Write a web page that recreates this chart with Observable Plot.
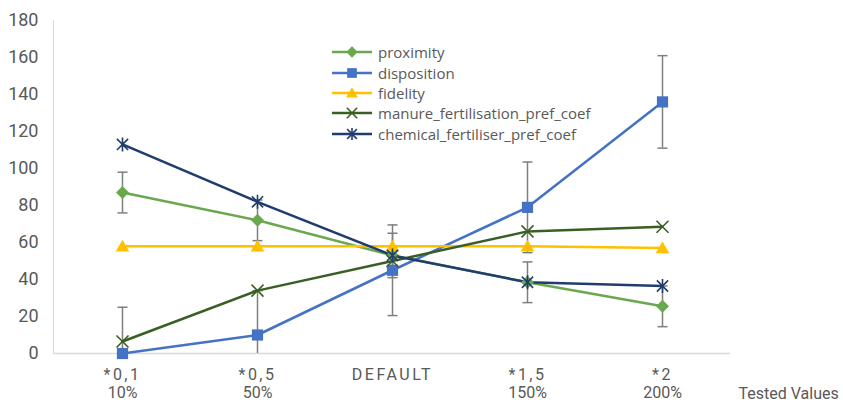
<!DOCTYPE html>
<html>
<head>
<meta charset="utf-8">
<script src="https://cdn.jsdelivr.net/npm/d3@7"></script>
<script src="https://cdn.jsdelivr.net/npm/@observablehq/plot@0.6"></script>
<style>
  body { margin: 0; background: #fff; }
  #wrap { position: relative; width: 843px; height: 405px; overflow: hidden; }
  #legend { position: absolute; left: 330px; top: 42px; font-family: "Open Sans", "Noto Sans", sans-serif; font-size: 15px; color: #595959; }
  #legend .row { height: 20.4px; display: flex; align-items: center; white-space: nowrap; }
  #legend svg { margin-right: 4px; }
</style>
</head>
<body>
<div id="wrap"><div id="legend"></div></div>
<script>
const categories = ["*0,1", "*0,5", "DEFAULT", "*1,5", "*2"];
const percentLabels = ["10%", "50%", "", "150%", "200%"];
const yTicks = [0, 20, 40, 60, 80, 100, 120, 140, 160, 180];

const seriesNames = ["proximity", "disposition", "fidelity", "manure_fertilisation_pref_coef", "chemical_fertiliser_pref_coef"];
const seriesColors = ["#6aa84f", "#4472c4", "#ffc000", "#3a5f24", "#203d6e"];

const proximity   = [87, 72, 53, 38.5, 25.5];
const disposition = [0, 10, 45, 79, 136];
const fidelity    = [58, 58, 58, 58, 57];
const manure      = [6.5, 34, 50, 66, 68.5];
const chemical    = [113, 82, 53, 38.5, 36.5];

const proximityErr   = [11, 11, 12, 11, 11];
const dispositionErr = [25, 24, 24.5, 24.5, 25];

const values = [proximity, disposition, fidelity, manure, chemical];

const rows = [];
seriesNames.forEach((s, si) => categories.forEach((c, ci) => rows.push({series: s, cat: c, value: values[si][ci]})));

const errRows = [];
[[proximity, proximityErr], [disposition, dispositionErr]].forEach(([v, e]) =>
  categories.forEach((c, ci) => errRows.push({cat: c, lo: v[ci] - e[ci], hi: v[ci] + e[ci]})));

// custom symbols
const capSymbol = { draw(ctx, size) { const r = Math.sqrt(size / Math.PI); ctx.moveTo(-r, 0); ctx.lineTo(r, 0); } };
const starSymbol = { draw(ctx, size) { const r = Math.sqrt(size / Math.PI); const k = r * 0.8;
  ctx.moveTo(0, -r); ctx.lineTo(0, r);
  ctx.moveTo(-k, -k); ctx.lineTo(k, k);
  ctx.moveTo(-k, k); ctx.lineTo(k, -k); } };
const xSymbol = { draw(ctx, size) { const r = Math.sqrt(size / Math.PI) * 0.8;
  ctx.moveTo(-r, -r); ctx.lineTo(r, r); ctx.moveTo(-r, r); ctx.lineTo(r, -r); } };
const diamondSymbol = { draw(ctx, size) { const r = Math.sqrt(size / Math.PI);
  ctx.moveTo(0, -r); ctx.lineTo(r, 0); ctx.lineTo(0, r); ctx.lineTo(-r, 0); ctx.closePath(); } };
const squareSymbol = { draw(ctx, size) { const r = Math.sqrt(size / Math.PI);
  ctx.rect(-r, -r, 2 * r, 2 * r); } };
const triangleSymbol = { draw(ctx, size) { const r = Math.sqrt(size / Math.PI);
  ctx.moveTo(0, -r); ctx.lineTo(r * 1.05, r * 0.8); ctx.lineTo(-r * 1.05, r * 0.8); ctx.closePath(); } };

const markerSpecs = [
  {symbol: diamondSymbol, r: 6.5, fill: true},
  {symbol: squareSymbol, r: 5.6, fill: true},
  {symbol: triangleSymbol, r: 6.5, fill: true},
  {symbol: xSymbol, r: 7.5, fill: false},
  {symbol: starSymbol, r: 7, fill: false}
];

const font = 'Roboto, "Liberation Sans", sans-serif';

const marks = [
  Plot.ruleY([0], {stroke: "#d9d9d9", strokeWidth: 1.5}),
  Plot.frame({anchor: "left", stroke: "#d9d9d9", strokeWidth: 1}),
  Plot.axisY({ticks: yTicks, tickSize: 0, tickPadding: 15, fontSize: 18, label: null, fill: "#595959"}),
  Plot.text(categories, {x: d => d, frameAnchor: "bottom", dy: 26, text: d => d, fontSize: 16, fill: "#595959"}),
  Plot.text(categories, {x: d => d, frameAnchor: "bottom", dy: 44, text: d => percentLabels[categories.indexOf(d)], fontSize: 16, fill: "#595959"}),
  Plot.text(["Tested Values"], {frameAnchor: "bottom-right", dx: 8, dy: 45, textAnchor: "start", fontSize: 16, fill: "#595959"}),
  Plot.ruleX(errRows, {x: "cat", y1: "lo", y2: "hi", stroke: "#7f7f7f", strokeWidth: 1.5, clip: true}),
  Plot.dot(errRows, {x: "cat", y: "hi", symbol: capSymbol, r: 5, stroke: "#7f7f7f", strokeWidth: 1.5, clip: true}),
  Plot.dot(errRows, {x: "cat", y: "lo", symbol: capSymbol, r: 5, stroke: "#7f7f7f", strokeWidth: 1.5, clip: true}),
  Plot.line(rows, {x: "cat", y: "value", z: "series", stroke: "series", strokeWidth: 2.5})
];
seriesNames.forEach((s, si) => {
  const m = markerSpecs[si];
  marks.push(Plot.dot(rows.filter(r => r.series === s), {
    x: "cat", y: "value", symbol: m.symbol, r: m.r,
    fill: m.fill ? seriesColors[si] : "none",
    stroke: seriesColors[si], strokeWidth: m.fill ? 0 : 1.6
  }));
});

const chart = Plot.plot({
  width: 843, height: 405,
  marginLeft: 53, marginRight: 113, marginTop: 20, marginBottom: 52,
  style: {fontFamily: font, color: "#595959", background: "#fff"},
  x: {type: "point", domain: categories, padding: 0.5, axis: null},
  y: {domain: [0, 180], axis: null},
  color: {domain: seriesNames, range: seriesColors},
  marks
});

d3.select(chart).selectAll("text").filter(function() { return categories.includes(this.textContent); })
  .attr("letter-spacing", "2.5px");

const wrap = document.getElementById("wrap");
wrap.insertBefore(chart, wrap.firstChild);

// legend
const legend = d3.select("#legend");
seriesNames.forEach((s, si) => {
  const row = legend.append("div").attr("class", "row");
  const sv = row.append("svg").attr("width", 44).attr("height", 16);
  sv.append("line").attr("x1", 2).attr("x2", 42).attr("y1", 8).attr("y2", 8)
    .attr("stroke", seriesColors[si]).attr("stroke-width", 2.5);
  const m = markerSpecs[si];
  sv.append("path").attr("transform", "translate(22,8)")
    .attr("d", d3.symbol(m.symbol, Math.PI * m.r * m.r * 0.75)())
    .attr("fill", m.fill ? seriesColors[si] : "none")
    .attr("stroke", m.fill ? "none" : seriesColors[si]).attr("stroke-width", 1.6);
  row.append("span").text(s);
});
</script>
</body>
</html>
